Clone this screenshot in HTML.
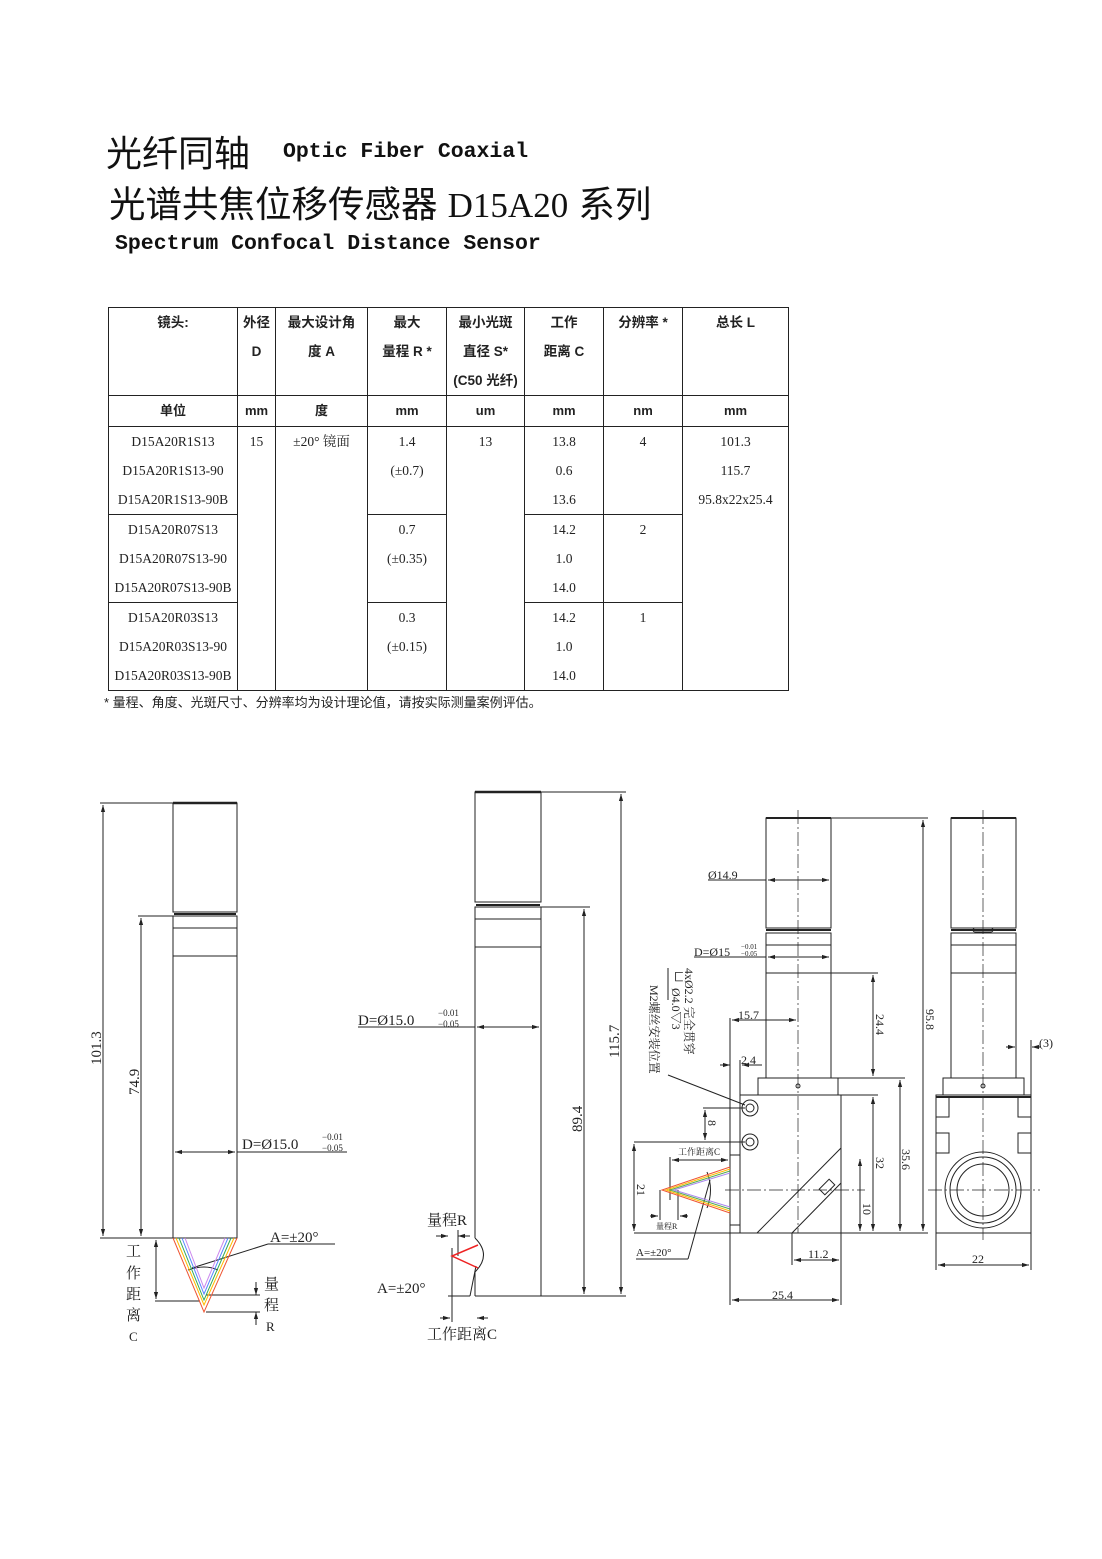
<!DOCTYPE html>
<html><head><meta charset="utf-8">
<style>
*{margin:0;padding:0;box-sizing:border-box}
body{width:1102px;height:1559px;background:#fff;position:relative;overflow:hidden;font-family:"Liberation Sans","Noto Sans CJK SC",sans-serif;color:#111}
.abs{position:absolute;white-space:nowrap}
.cn{font-family:"Liberation Sans","Noto Sans CJK SC",sans-serif}
.mono{font-family:"Liberation Mono","Noto Sans CJK SC",monospace;font-weight:bold}
table{position:absolute;left:108px;top:307px;border-collapse:collapse;table-layout:fixed;width:680px}
td{border:1px solid #222;text-align:center;vertical-align:top;font-family:"Liberation Serif","Noto Serif CJK SC",serif;font-size:13.5px;line-height:29px;color:#222}
tr.h td{font-family:"Liberation Sans","Noto Sans CJK SC",sans-serif;font-weight:bold;font-size:13.5px;height:87px}
tr.u td{font-family:"Liberation Sans","Noto Sans CJK SC",sans-serif;font-weight:bold;height:31px;line-height:30px;font-size:13px}
tr.g td{height:87px}
svg{position:absolute;left:0;top:0}
svg text{font-family:"Liberation Serif","Noto Serif CJK SC",serif;fill:#222}
</style></head><body>
<div class="abs cn" style="left:106px;top:130px;font-size:36px;line-height:48px">光纤同轴</div>
<div class="abs mono" style="left:283px;top:137px;font-size:21.5px;line-height:30px">Optic Fiber Coaxial</div>
<div class="abs cn" style="left:109px;top:181px;font-size:36.5px;line-height:48px">光谱共焦位移传感器 <span style="font-family:'Liberation Serif',serif;font-size:35px">D15A20</span> 系列</div>
<div class="abs mono" style="left:115px;top:229px;font-size:21.5px;line-height:30px">Spectrum Confocal Distance Sensor</div>

<table>
<colgroup><col style="width:129px"><col style="width:38px"><col style="width:92px"><col style="width:79px"><col style="width:78px"><col style="width:79px"><col style="width:79px"><col style="width:106px"></colgroup>
<tr class="h"><td>镜头:</td><td>外径<br>D</td><td>最大设计角<br>度 A</td><td>最大<br>量程 R *</td><td>最小光斑<br>直径 S*<br>(C50 光纤)</td><td>工作<br>距离 C</td><td>分辨率 *</td><td>总长 L</td></tr>
<tr class="u"><td>单位</td><td>mm</td><td>度</td><td>mm</td><td>um</td><td>mm</td><td>nm</td><td>mm</td></tr>
<tr class="g"><td>D15A20R1S13<br>D15A20R1S13-90<br>D15A20R1S13-90B</td><td rowspan="3">15</td><td rowspan="3">±20° 镜面</td><td>1.4<br>(±0.7)</td><td rowspan="3">13</td><td>13.8<br>0.6<br>13.6</td><td>4</td><td rowspan="3">101.3<br>115.7<br>95.8x22x25.4</td></tr>
<tr class="g"><td>D15A20R07S13<br>D15A20R07S13-90<br>D15A20R07S13-90B</td><td>0.7<br>(±0.35)</td><td>14.2<br>1.0<br>14.0</td><td>2</td></tr>
<tr class="g"><td>D15A20R03S13<br>D15A20R03S13-90<br>D15A20R03S13-90B</td><td>0.3<br>(±0.15)</td><td>14.2<br>1.0<br>14.0</td><td>1</td></tr>
</table>
<div class="abs cn" style="left:104px;top:694px;font-size:13px;line-height:18px;color:#222">* 量程、角度、光斑尺寸、分辨率均为设计理论值，请按实际测量案例评估。</div>

<svg width="1102" height="1559" viewBox="0 0 1102 1559">
<defs>
<marker id="a" viewBox="0 0 10 10" refX="10" refY="5" markerWidth="7" markerHeight="7" orient="auto-start-reverse"><path d="M0,2 L10,5 L0,8z" fill="#222"/></marker>
</defs>
<g stroke="#222" stroke-width="1" fill="none">
<!-- Drawing 1 -->
<rect x="173" y="803" width="64" height="109"/>
<line x1="173" y1="803" x2="237" y2="803" stroke-width="2.5"/>
<line x1="174" y1="914" x2="236" y2="914" stroke-width="2"/>
<rect x="173" y="916" width="64" height="12"/>
<rect x="173" y="928" width="64" height="28"/>
<rect x="173" y="956" width="64" height="282"/>
<line x1="100" y1="803" x2="173" y2="803"/>
<line x1="100" y1="1238" x2="173" y2="1238"/>
<line x1="138" y1="916" x2="173" y2="916"/>
<line x1="103" y1="805" x2="103" y2="1236" marker-start="url(#a)" marker-end="url(#a)"/>
<line x1="141" y1="918" x2="141" y2="1236" marker-start="url(#a)" marker-end="url(#a)"/>
<line x1="175" y1="1152" x2="235" y2="1152" marker-start="url(#a)" marker-end="url(#a)"/>
<line x1="237" y1="1152" x2="347" y2="1152"/>
<line x1="155" y1="1301" x2="200" y2="1301"/>
<line x1="156" y1="1240" x2="156" y2="1299" marker-start="url(#a)" marker-end="url(#a)"/>
<line x1="206" y1="1295" x2="260" y2="1295"/>
<line x1="206" y1="1312" x2="260" y2="1312"/>
<line x1="256" y1="1282" x2="256" y2="1295" marker-end="url(#a)"/>
<line x1="256" y1="1325" x2="256" y2="1312" marker-end="url(#a)"/>
<line x1="335" y1="1244" x2="268" y2="1244"/>
<line x1="268" y1="1244" x2="192" y2="1268"/>
<path d="M188,1270 Q205,1264 218,1270"/>
<!-- Drawing 2 -->
<rect x="475" y="792" width="66" height="110"/>
<line x1="475" y1="792" x2="541" y2="792" stroke-width="2.5"/>
<line x1="476" y1="905" x2="540" y2="905" stroke-width="2"/>
<rect x="475" y="907" width="66" height="12"/>
<rect x="475" y="919" width="66" height="28"/>
<line x1="475" y1="947" x2="475" y2="1238"/>
<line x1="475" y1="1272" x2="475" y2="1296"/>
<line x1="541" y1="947" x2="541" y2="1296"/>
<line x1="475" y1="1296" x2="541" y2="1296"/>
<path d="M475,1238 Q492,1255 475,1272"/>
<line x1="541" y1="792" x2="626" y2="792"/>
<line x1="541" y1="907" x2="590" y2="907"/>
<line x1="541" y1="1296" x2="626" y2="1296"/>
<line x1="621" y1="794" x2="621" y2="1294" marker-start="url(#a)" marker-end="url(#a)"/>
<line x1="584" y1="909" x2="584" y2="1294" marker-start="url(#a)" marker-end="url(#a)"/>
<line x1="358" y1="1027" x2="475" y2="1027"/>
<line x1="477" y1="1027" x2="539" y2="1027" marker-start="url(#a)" marker-end="url(#a)"/>
<line x1="452" y1="1248" x2="452" y2="1322"/>
<line x1="440" y1="1318" x2="450" y2="1318" marker-end="url(#a)"/>
<line x1="488" y1="1318" x2="477" y2="1318" marker-end="url(#a)"/>
<line x1="436" y1="1236" x2="448" y2="1236" marker-end="url(#a)"/>
<line x1="470" y1="1236" x2="458" y2="1236" marker-end="url(#a)"/>
<line x1="458" y1="1230" x2="458" y2="1256"/>
<line x1="448" y1="1296" x2="470" y2="1296"/>
<line x1="470" y1="1296" x2="476" y2="1266"/>
<!-- Drawing 3 -->
<rect x="766" y="818" width="65" height="110"/>
<line x1="766" y1="818" x2="831" y2="818" stroke-width="2"/>
<line x1="766" y1="930" x2="831" y2="930" stroke-width="2"/>
<rect x="766" y="933" width="65" height="12"/>
<rect x="766" y="945" width="65" height="28"/>
<rect x="766" y="973" width="65" height="105"/>
<rect x="758" y="1078" width="80" height="17"/>
<rect x="740" y="1095" width="101" height="138"/>
<rect x="730" y="1155" width="10" height="70"/>
<line x1="757" y1="1233" x2="841" y2="1148"/>
<line x1="792" y1="1233" x2="841" y2="1183"/>
<rect x="820" y="1183" width="14" height="8" transform="rotate(-45 827 1187)"/>
<circle cx="750" cy="1108" r="8"/><circle cx="750" cy="1108" r="4"/>
<circle cx="750" cy="1142" r="8"/><circle cx="750" cy="1142" r="4"/>
<circle cx="798" cy="1086" r="2"/>
<line x1="798" y1="810" x2="798" y2="1233" stroke-dasharray="14,3,2,3" stroke-width="0.7"/>
<line x1="725" y1="1190" x2="865" y2="1190" stroke-dasharray="14,3,2,3" stroke-width="0.7"/>
<line x1="831" y1="818" x2="928" y2="818"/>
<line x1="923" y1="820" x2="923" y2="1231" marker-start="url(#a)" marker-end="url(#a)"/>
<line x1="708" y1="880" x2="766" y2="880"/>
<line x1="768" y1="880" x2="829" y2="880" marker-start="url(#a)" marker-end="url(#a)"/>
<line x1="694" y1="957" x2="766" y2="957"/>
<line x1="768" y1="957" x2="829" y2="957" marker-start="url(#a)" marker-end="url(#a)"/>
<line x1="730" y1="1018" x2="730" y2="1305"/>
<line x1="732" y1="1020" x2="796" y2="1020" marker-start="url(#a)" marker-end="url(#a)"/>
<line x1="720" y1="1065" x2="730" y2="1065" marker-end="url(#a)"/>
<line x1="762" y1="1065" x2="742" y2="1065" marker-end="url(#a)"/>
<line x1="740" y1="1060" x2="740" y2="1095"/>
<line x1="831" y1="973" x2="878" y2="973"/>
<line x1="838" y1="1078" x2="905" y2="1078"/>
<line x1="841" y1="1095" x2="878" y2="1095"/>
<line x1="634" y1="1233" x2="928" y2="1233"/>
<line x1="873" y1="975" x2="873" y2="1076" marker-start="url(#a)" marker-end="url(#a)"/>
<line x1="873" y1="1097" x2="873" y2="1231" marker-start="url(#a)" marker-end="url(#a)"/>
<line x1="900" y1="1080" x2="900" y2="1231" marker-start="url(#a)" marker-end="url(#a)"/>
<line x1="860" y1="1159" x2="860" y2="1231" marker-start="url(#a)" marker-end="url(#a)"/>
<line x1="634" y1="1142" x2="745" y2="1142"/>
<line x1="634" y1="1144" x2="634" y2="1231" marker-start="url(#a)" marker-end="url(#a)"/>
<line x1="703" y1="1108" x2="745" y2="1108"/>
<line x1="705" y1="1110" x2="705" y2="1140" marker-start="url(#a)" marker-end="url(#a)"/>
<line x1="792" y1="1233" x2="792" y2="1265"/>
<line x1="841" y1="1233" x2="841" y2="1305"/>
<line x1="794" y1="1260" x2="839" y2="1260" marker-start="url(#a)" marker-end="url(#a)"/>
<line x1="732" y1="1300" x2="839" y2="1300" marker-start="url(#a)" marker-end="url(#a)"/>
<line x1="670" y1="1157" x2="670" y2="1200"/>
<line x1="672" y1="1160" x2="728" y2="1160" marker-start="url(#a)" marker-end="url(#a)"/>
<line x1="660" y1="1190" x2="660" y2="1220"/>
<line x1="678" y1="1190" x2="678" y2="1220"/>
<line x1="650" y1="1216" x2="658" y2="1216" marker-end="url(#a)"/>
<line x1="688" y1="1216" x2="680" y2="1216" marker-end="url(#a)"/>
<line x1="668" y1="968" x2="668" y2="1000"/>
<line x1="668" y1="1075" x2="745" y2="1105"/>
<line x1="636" y1="1259" x2="688" y2="1259"/>
<line x1="688" y1="1259" x2="710" y2="1180"/>
<path d="M707,1172 Q714,1190 707,1208"/>
<!-- Drawing 4 -->
<rect x="951" y="818" width="65" height="110"/>
<line x1="951" y1="818" x2="1016" y2="818" stroke-width="2"/>
<line x1="951" y1="930" x2="1016" y2="930" stroke-width="2"/>
<rect x="973" y="928" width="20" height="4" rx="2"/>
<rect x="951" y="933" width="65" height="12"/>
<rect x="951" y="945" width="65" height="28"/>
<rect x="951" y="973" width="65" height="105"/>
<rect x="943" y="1078" width="81" height="17"/>
<rect x="936" y="1095" width="95" height="138"/>
<line x1="936" y1="1097" x2="1031" y2="1097" stroke-width="2"/>
<rect x="936" y="1097" width="13" height="20"/><rect x="1018" y="1097" width="13" height="20"/>
<rect x="936" y="1133" width="13" height="20"/><rect x="1018" y="1133" width="13" height="20"/>
<circle cx="983" cy="1190" r="38"/><circle cx="983" cy="1190" r="33"/><circle cx="983" cy="1190" r="26"/>
<circle cx="983" cy="1086" r="2"/>
<line x1="983" y1="810" x2="983" y2="1240" stroke-dasharray="14,3,2,3" stroke-width="0.7"/>
<line x1="928" y1="1190" x2="1040" y2="1190" stroke-dasharray="14,3,2,3" stroke-width="0.7"/>
<line x1="936" y1="1233" x2="936" y2="1270"/>
<line x1="1031" y1="1233" x2="1031" y2="1270"/>
<line x1="938" y1="1265" x2="1029" y2="1265" marker-start="url(#a)" marker-end="url(#a)"/>
<line x1="1016" y1="1047" x2="1016" y2="1078"/>
<line x1="1031" y1="1040" x2="1031" y2="1095"/>
<line x1="1006" y1="1047" x2="1015" y2="1047" marker-end="url(#a)"/>
<line x1="1041" y1="1047" x2="1032" y2="1047" marker-end="url(#a)"/>
</g>
<!-- colored light cones -->
<g fill="none" stroke-width="1">
<polyline points="173,1238 204,1312 237,1238" stroke="#e53"/>
<polyline points="176,1238 204,1305 234,1238" stroke="#fb0"/>
<polyline points="179,1238 204,1300 231,1238" stroke="#3a5"/>
<polyline points="182,1238 204,1294 228,1238" stroke="#58f"/>
<polyline points="185,1238 204,1288 225,1238" stroke="#c8e"/>
<polyline points="478,1245 452,1256 478,1268" stroke="#e22" stroke-width="1.5"/>
<polyline points="730,1167 662,1190 730,1213" stroke="#e53"/>
<polyline points="730,1169 666,1190 730,1211" stroke="#fb0"/>
<polyline points="730,1171 670,1190 730,1209" stroke="#5a5"/>
<polyline points="730,1173 674,1190 730,1207" stroke="#a8e"/>
</g>
<!-- drawing texts -->
<g font-size="15">
<text transform="translate(101,1065) rotate(-90)">101.3</text>
<text transform="translate(139,1095) rotate(-90)">74.9</text>
<text x="242" y="1149">D=Ø15.0</text>
<text x="322" y="1140" font-size="9">−0.01</text>
<text x="322" y="1151" font-size="9">−0.05</text>
<text x="270" y="1242">A=±20°</text>
<text x="126" y="1256">工</text><text x="126" y="1278">作</text><text x="126" y="1299">距</text><text x="126" y="1320">离</text><text x="129" y="1341" font-size="13">C</text>
<text x="264" y="1289">量</text><text x="264" y="1310">程</text><text x="266" y="1331" font-size="13">R</text>
<text x="358" y="1025">D=Ø15.0</text>
<text x="438" y="1016" font-size="9">−0.01</text>
<text x="438" y="1027" font-size="9">−0.05</text>
<text transform="translate(619,1058) rotate(-90)">115.7</text>
<text transform="translate(582,1132) rotate(-90)">89.4</text>
<text x="427" y="1225">量程R</text>
<text x="377" y="1293">A=±20°</text>
<text x="427" y="1339">工作距离C</text>
</g>
<g font-size="12">
<text x="708" y="879">Ø14.9</text>
<text x="694" y="956">D=Ø15</text>
<text x="741" y="949" font-size="7">−0.01</text>
<text x="741" y="956" font-size="7">−0.05</text>
<text x="738" y="1019">15.7</text>
<text x="741" y="1064">2.4</text>
<text transform="translate(876,1014) rotate(90)">24.4</text>
<text transform="translate(876,1157) rotate(90)">32</text>
<text transform="translate(902,1149) rotate(90)">35.6</text>
<text transform="translate(926,1009) rotate(90)">95.8</text>
<text transform="translate(863,1203) rotate(90)">10</text>
<text transform="translate(708,1120) rotate(90)">8</text>
<text transform="translate(637,1184) rotate(90)">21</text>
<text x="808" y="1258">11.2</text>
<text x="772" y="1299">25.4</text>
<text x="972" y="1263">22</text>
<text x="1039" y="1047">(3)</text>
<text x="678" y="1155" font-size="9">工作距离C</text>
<text x="656" y="1229" font-size="8">量程R</text>
<text x="636" y="1256" font-size="11">A=±20°</text>
<text transform="translate(685,968) rotate(90)">4xØ2.2 完全贯穿</text>
<text transform="translate(672,968) rotate(90)">└┘ Ø4.0▽3</text>
<text transform="translate(650,985) rotate(90)">M2螺丝安装位置</text>
</g>
</svg>
</body></html>
